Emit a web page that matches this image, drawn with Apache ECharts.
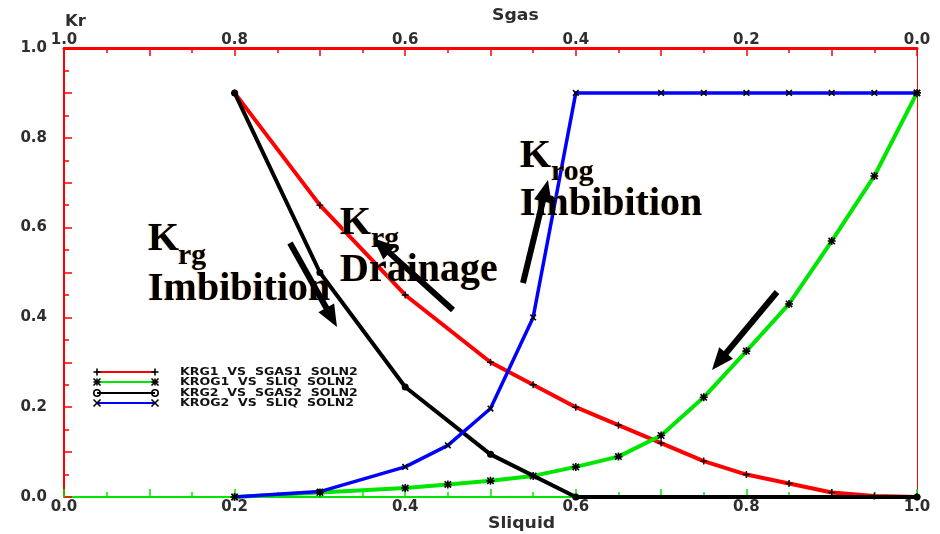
<!DOCTYPE html>
<html>
<head>
<meta charset="utf-8">
<script src="https://cdn.jsdelivr.net/npm/echarts@6/dist/echarts.min.js"></script>
<style>
  html, body { margin: 0; padding: 0; background: #fff; }
  #chart { width: 940px; height: 534px; }
</style>
</head>
<body>
<div id="chart"></div>
<script>
// ---- data ----
// KRG1 vs SGAS1 (gas relative permeability, drainage), on the Sgas axis
const krg1Sgas = [0.8, 0.7, 0.6, 0.5, 0.45, 0.4, 0.35, 0.3, 0.25, 0.2, 0.15, 0.1, 0.05, 0.0];
const krg1     = [0.9, 0.65, 0.45, 0.30, 0.25, 0.20, 0.16, 0.12, 0.08, 0.05, 0.03, 0.01, 0.002, 0.0];
// KROG1 vs SLIQ (oil-in-gas relative permeability)
const krog1Sliq = [0.2, 0.3, 0.4, 0.45, 0.5, 0.55, 0.6, 0.65, 0.7, 0.75, 0.8, 0.85, 0.9, 0.95, 1.0];
const krog1     = [0.0, 0.01, 0.02, 0.028, 0.036, 0.047, 0.067, 0.09, 0.137, 0.222, 0.325, 0.43, 0.57, 0.715, 0.9];
// KRG2 vs SGAS2 (gas relative permeability, imbibition), on the Sgas axis
const krg2Sgas = [0.8, 0.7, 0.6, 0.5, 0.4, 0.0];
const krg2     = [0.9, 0.5, 0.245, 0.095, 0.0, 0.0];
// KROG2 vs SLIQ (oil relative permeability, imbibition)
const krog2Sliq = [0.2, 0.3, 0.4, 0.45, 0.5, 0.55, 0.6, 0.7, 0.75, 0.8, 0.85, 0.9, 0.95, 1.0];
const krog2     = [0.0, 0.012, 0.067, 0.115, 0.197, 0.4, 0.9, 0.9, 0.9, 0.9, 0.9, 0.9, 0.9, 0.9];

const seriesNames = ['KRG1  VS  SGAS1  SOLN2', 'KROG1  VS  SLIQ  SOLN2', 'KRG2  VS  SGAS2  SOLN2', 'KROG2  VS  SLIQ  SOLN2'];
const seriesColors = ['#ff0000', '#00e600', '#000000', '#0000ff'];
const seriesMarks = ['+', '*', 'o', 'x'];

// tick labels (every 0.2); ticks themselves run every 0.1 with 0.05 minors
const sliqTickLabels = { 0: '0.0', 2: '0.2', 4: '0.4', 6: '0.6', 8: '0.8', 10: '1.0' };
const sgasTickLabels = { 0: '0.0', 2: '0.2', 4: '0.4', 6: '0.6', 8: '0.8', 10: '1.0' };
const krTickLabels   = { 0: '0.0', 2: '0.2', 4: '0.4', 6: '0.6', 8: '0.8', 10: '1.0' };

const pairs = (xs, ys) => xs.map((x, i) => [x, ys[i]]);
const tickFmt = table => v => table[Math.round(v * 10)] || '';

// marker shapes
const SYM_PLUS = 'path://M4,0H6V4H10V6H6V10H4V6H0V4H4Z';
const SYM_STAR = 'path://M4,0H6V10H4Z M0,4H10V6H0Z M0.3,1.7L1.7,0.3L9.7,8.3L8.3,9.7Z M8.3,0.3L9.7,1.7L1.7,9.7L0.3,8.3Z';

const labelFont = { color: '#2e2e2e', fontFamily: 'DejaVu Sans', fontWeight: 'bold', fontSize: 15 };

// ---- annotation helpers ----
function arrow(x1, y1, x2, y2) {
  const dx = x2 - x1, dy = y2 - y1, L = Math.hypot(dx, dy);
  const ux = dx / L, uy = dy / L, hl = 22, hw = 9;
  const bx = x2 - ux * hl, by = y2 - uy * hl;
  return [
    { type: 'line', z: 100, shape: { x1, y1, x2: bx + ux * 2, y2: by + uy * 2 },
      style: { stroke: '#000', lineWidth: 6 } },
    { type: 'polygon', z: 100,
      shape: { points: [[x2, y2], [bx - uy * hw, by + ux * hw], [bx + uy * hw, by - ux * hw]] },
      style: { fill: '#000' } }
  ];
}

function legendMark(kind, cx, cy) {
  const s = 3.5, st = { stroke: '#000', lineWidth: 1.6 };
  const ln = (a, b, c, d) => ({ type: 'line', z: 50, shape: { x1: a, y1: b, x2: c, y2: d }, style: st });
  if (kind === '+') return [ln(cx - s, cy, cx + s, cy), ln(cx, cy - s, cx, cy + s)];
  if (kind === 'x') return [ln(cx - s, cy - s, cx + s, cy + s), ln(cx - s, cy + s, cx + s, cy - s)];
  if (kind === '*') return [ln(cx - s, cy, cx + s, cy), ln(cx, cy - s, cx, cy + s),
                           ln(cx - s, cy - s, cx + s, cy + s), ln(cx - s, cy + s, cx + s, cy - s)];
  return [{ type: 'circle', z: 50, shape: { cx, cy, r: 3.2 }, style: { fill: 'none', stroke: '#000', lineWidth: 1.6 } }];
}

function serifText(x, y, text, size) {
  return { type: 'text', z: 90, x, y,
    style: { text, font: 'bold ' + size + 'px "Liberation Serif"', fill: '#000',
             verticalAlign: 'middle', textShadowColor: 'rgba(230,140,40,0.55)', textShadowOffsetX: -1, textShadowBlur: 1 } };
}

function plainText(x, y, text, size, sx) {
  return { type: 'text', z: 60, x, y, scaleX: sx || 1,
    style: { text, font: 'bold ' + size + 'px "DejaVu Sans"', fill: '#2e2e2e', verticalAlign: 'middle' } };
}

const graphics = [];
// axis titles
graphics.push(plainText(65, 22, 'Kr', 15, 1.1));
graphics.push(plainText(492, 16, 'Sgas', 15, 1.15));
graphics.push(plainText(488, 524, 'Sliquid', 15, 1.15));

// legend block
const legendRows = [372, 382, 393, 403];
seriesNames.forEach((name, i) => {
  const y = legendRows[i];
  graphics.push({ type: 'line', z: 40, shape: { x1: 97, y1: y, x2: 155, y2: y },
                  style: { stroke: seriesColors[i], lineWidth: 2.2 } });
  graphics.push(...legendMark(seriesMarks[i], 97, y));
  graphics.push(...legendMark(seriesMarks[i], 155, y));
  graphics.push({ type: 'text', z: 40, x: 180, y, scaleX: 1.2,
    style: { text: name, font: 'bold 10.5px "DejaVu Sans"', fill: '#111', verticalAlign: 'middle' } });
});

// curve annotations
graphics.push(serifText(148, 239.5, 'K', 40), serifText(178, 256, 'rg', 30), serifText(148, 289.5, 'Imbibition', 40));
graphics.push(serifText(340, 223.5, 'K', 40), serifText(371, 239, 'rg', 30), serifText(340, 270.5, 'Drainage', 40));
graphics.push(serifText(520, 156.5, 'K', 40), serifText(551, 172, 'rog', 30), serifText(520, 204.5, 'Imbibition', 40));
graphics.push(...arrow(290, 243, 337, 327));
graphics.push(...arrow(453, 310, 373, 238));
graphics.push(...arrow(523, 283, 548, 180));
graphics.push(...arrow(777, 292, 712, 370));

const chart = echarts.init(document.getElementById('chart'), null, { renderer: 'canvas' });

const tickAxis = (color, lineWidth, fmtTable) => ({
  type: 'value', min: 0, max: 1, interval: 0.1,
  splitLine: { show: false },
  axisLine: { show: true, onZero: false, lineStyle: { color, width: lineWidth } },
  axisTick: { show: true, inside: true, length: 8, lineStyle: { color, width: 1.5 } },
  minorTick: { show: true, splitNumber: 2, length: 5, lineStyle: { color, width: 1.5 } },
  axisLabel: Object.assign({ formatter: tickFmt(fmtTable), margin: 3, showMinLabel: true, showMaxLabel: true }, labelFont)
});

const xBottom = tickAxis('#00e600', 2, sliqTickLabels);
xBottom.position = 'bottom';
const xTop = tickAxis('#ff0000', 3, sgasTickLabels);
xTop.position = 'top';
xTop.inverse = true;
xTop.axisLabel.margin = 0;
const yLeft = tickAxis('#ff0000', 2, krTickLabels);
yLeft.position = 'left';
yLeft.axisLabel.margin = 17;
const yRight = {
  type: 'value', min: 0, max: 1, position: 'right',
  splitLine: { show: false },
  axisLine: { show: true, onZero: false, lineStyle: { color: '#ff0000', width: 1 } },
  axisTick: { show: false }, axisLabel: { show: false }
};

const lineSeries = (name, data, color, width, xi, symbol, size, extra) => Object.assign({
  name, type: 'line', data, xAxisIndex: xi, yAxisIndex: 0,
  symbol, symbolSize: size, showSymbol: true, animation: false,
  lineStyle: { color, width },
  itemStyle: { color: '#000' },
  emphasis: { disabled: true }
}, extra || {});

chart.setOption({
  backgroundColor: '#fff',
  animation: false,
  grid: { left: 64, right: 23, top: 48, bottom: 37, containLabel: false },
  xAxis: [xBottom, xTop],
  yAxis: [yLeft, yRight],
  series: [
    lineSeries(seriesNames[0], pairs(krg1Sgas, krg1), seriesColors[0], 4, 1, SYM_PLUS, 7),
    lineSeries(seriesNames[1], pairs(krog1Sliq, krog1), seriesColors[1], 4, 0, SYM_STAR, 8),
    lineSeries(seriesNames[2], pairs(krg2Sgas, krg2), seriesColors[2], 4, 1, 'circle', 7),
    lineSeries(seriesNames[3], pairs(krog2Sliq, krog2), seriesColors[3], 3.5, 0, SYM_PLUS, 8, { symbolRotate: 45 })
  ],
  graphic: graphics
});
</script>
</body>
</html>
